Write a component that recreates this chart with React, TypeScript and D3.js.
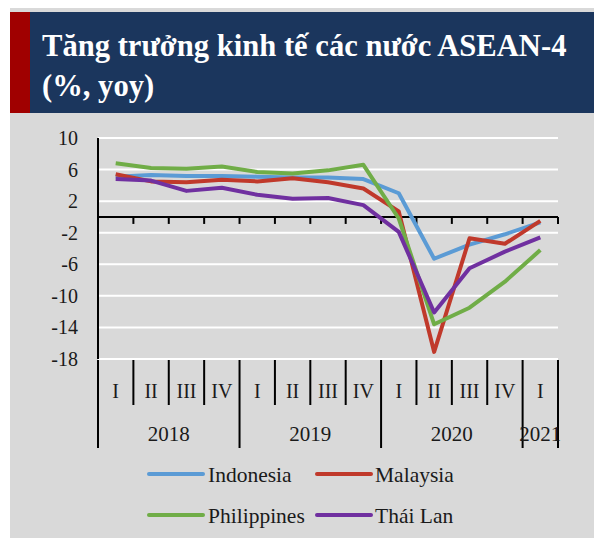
import React from "react";
import * as d3 from "d3";

const quarters = ["I", "II", "III", "IV", "I", "II", "III", "IV", "I", "II", "III", "IV", "I"];
const years = ["2018", "2019", "2020", "2021"];
const yearSpans = [4, 4, 4, 1];
const yTicks = [10, 6, 2, -2, -6, -10, -14, -18];

const indonesia = [5.1, 5.3, 5.2, 5.2, 5.1, 5.0, 5.0, 4.8, 3.0, -5.3, -3.5, -2.2, -0.7];
const malaysia = [5.4, 4.5, 4.4, 4.7, 4.5, 4.9, 4.4, 3.6, 0.7, -17.1, -2.7, -3.4, -0.5];
const philippines = [6.8, 6.2, 6.1, 6.4, 5.7, 5.5, 5.9, 6.6, -0.2, -13.6, -11.5, -8.2, -4.2];
const thailand = [4.8, 4.6, 3.3, 3.7, 2.8, 2.3, 2.4, 1.5, -1.9, -12.1, -6.5, -4.4, -2.6];

const seriesNames = ["Indonesia", "Malaysia", "Philippines", "Thái Lan"];
const seriesData = [indonesia, malaysia, philippines, thailand];
const colors = ["#5b9bd5", "#c0392b", "#70ad47", "#7030a0"];

const FONT = "'Liberation Serif', 'Times New Roman', serif";

export default function App() {
  const W = 594, H = 538;
  const x0 = 98, x1 = 558, yTop = 138, yBot = 359;
  const x = d3.scaleBand<number>().domain(d3.range(quarters.length)).range([x0, x1]).paddingInner(0).paddingOuter(0);
  const y = d3.scaleLinear().domain([-18, 10]).range([yBot, yTop]);
  const bw = x.bandwidth();
  const cx = (i: number) => (x(i) as number) + bw / 2;
  const line = d3.line<number>().x((_, i) => cx(i)).y((v) => y(v));
  const zeroY = y(0);

  const yearStarts: number[] = [];
  let acc = 0;
  yearSpans.forEach((s) => { yearStarts.push(acc); acc += s; });
  const yearBoundaryIdx = new Set(yearStarts.concat([quarters.length]));

  const legendItems = [
    { name: seriesNames[0], color: colors[0], lx: 149, ly: 474, tx: 208 },
    { name: seriesNames[1], color: colors[1], lx: 317, ly: 474, tx: 375 },
    { name: seriesNames[2], color: colors[2], lx: 149, ly: 515, tx: 208 },
    { name: seriesNames[3], color: colors[3], lx: 317, ly: 515, tx: 375 },
  ];

  return (
    <svg width={W} height={H} style={{ position: "absolute", left: 0, top: 0 }} fontFamily={FONT}>
      <rect x={0} y={0} width={W} height={H} fill="#ffffff" />
      <rect x={10} y={8} width={W - 10} height={H - 8} fill="#d9d9d9" />
      <rect x={10} y={12} width={20} height={101} fill="#a00000" />
      <rect x={30} y={12} width={W - 30} height={101} fill="#1b365d" />
      <text x={42} y={56} fill="#ffffff" fontSize={30.6} fontWeight="bold">Tăng trưởng kinh tế các nước ASEAN-4</text>
      <text x={42} y={96} fill="#ffffff" fontSize={30.6} fontWeight="bold">(%, yoy)</text>

      {yTicks.map((t) => (
        <g key={t}>
          <line x1={x0} x2={x1} y1={y(t)} y2={y(t)} stroke="#ffffff" strokeWidth={2} />
          <text x={78} y={y(t)} dy="0.35em" textAnchor="end" fontSize={20} fill="#1a1a1a">{t}</text>
        </g>
      ))}

      <line x1={x0} x2={x0} y1={yTop} y2={yBot} stroke="#000" strokeWidth={2} />
      <line x1={x0} x2={x1} y1={zeroY} y2={zeroY} stroke="#000" strokeWidth={2} />
      {d3.range(quarters.length + 1).map((i) => {
        const xx = i === quarters.length ? x1 : (x(i) as number);
        return <line key={"zt" + i} x1={xx} x2={xx} y1={zeroY} y2={zeroY + 7} stroke="#000" strokeWidth={2} />;
      })}

      {d3.range(quarters.length + 1).map((i) => {
        const xx = i === quarters.length ? x1 : (x(i) as number);
        const isYear = yearBoundaryIdx.has(i);
        return <line key={"sep" + i} x1={xx} x2={xx} y1={yBot + 1} y2={isYear ? 448 : 405} stroke="#000" strokeWidth={2} />;
      })}
      {quarters.map((q, i) => (
        <text key={"q" + i} x={cx(i)} y={391} dy="0.35em" textAnchor="middle" fontSize={20} fill="#1a1a1a">{q}</text>
      ))}
      {years.map((yr, k) => {
        const s = yearStarts[k];
        const e = s + yearSpans[k];
        const mid = ((x(s) as number) + (e === quarters.length ? x1 : (x(e) as number))) / 2;
        return <text key={yr} x={mid} y={434} dy="0.35em" textAnchor="middle" fontSize={21} fill="#1a1a1a">{yr}</text>;
      })}

      {seriesData.map((d, k) => (
        <path key={seriesNames[k]} d={line(d) as string} fill="none" stroke={colors[k]} strokeWidth={4} strokeLinejoin="round" />
      ))}

      {legendItems.map((it) => (
        <g key={it.name}>
          <line x1={it.lx} x2={it.lx + 54} y1={it.ly} y2={it.ly} stroke={it.color} strokeWidth={4} strokeLinecap="round" />
          <text x={it.tx} y={it.ly + 8} fontSize={21.5} fill="#1a1a1a">{it.name}</text>
        </g>
      ))}
    </svg>
  );
}
